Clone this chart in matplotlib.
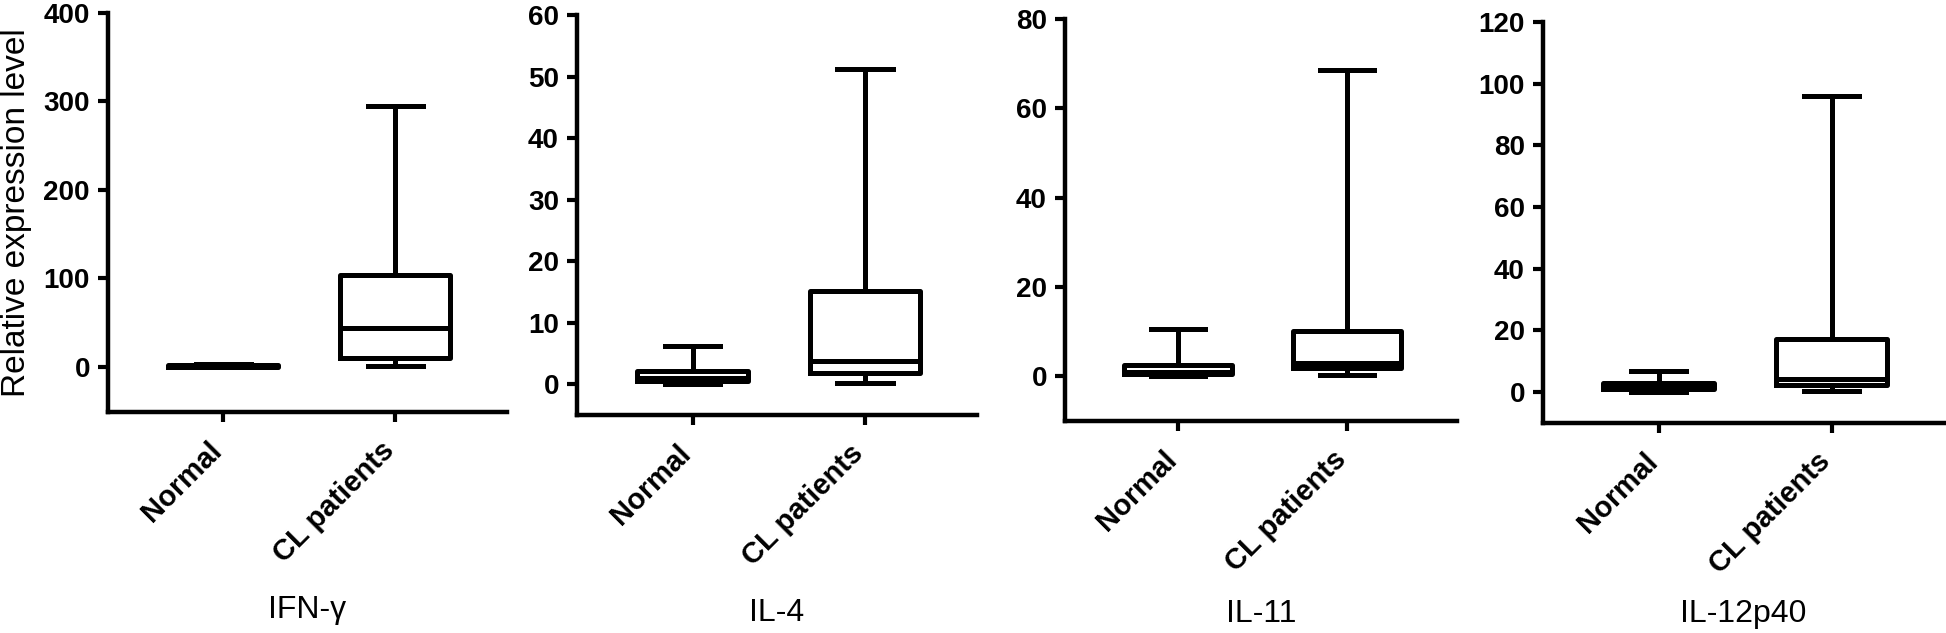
import matplotlib
matplotlib.use("Agg")
import matplotlib.pyplot as plt
from matplotlib.transforms import ScaledTranslation

plt.rcParams["font.family"] = ["Liberation Sans", "DejaVu Sans"]

# values (whisker low, Q1, median, Q3, whisker high)
groups = ["Normal", "CL patients"]
cytokines = ["IFN-γ", "IL-4", "IL-11", "IL-12p40"]

ifng_normal = [0.0, 0.2, 1.0, 2.5, 3.5]
ifng_cl = [1.0, 10.0, 44.0, 104.0, 295.0]
il4_normal = [0.0, 0.5, 1.0, 2.2, 6.2]
il4_cl = [0.2, 1.8, 3.7, 15.2, 51.3]
il11_normal = [0.0, 0.6, 1.0, 2.6, 10.5]
il11_cl = [0.2, 1.9, 2.9, 10.1, 68.5]
il12_normal = [0.0, 1.0, 1.8, 3.0, 6.8]
il12_cl = [0.5, 2.3, 4.4, 17.1, 96.0]

series = [
    (ifng_normal, ifng_cl),
    (il4_normal, il4_cl),
    (il11_normal, il11_cl),
    (il12_normal, il12_cl),
]
y_limits = [(-51, 400), (-5, 60), (-10, 80), (-10, 120)]
y_ticks = [
    [0, 100, 200, 300, 400],
    [0, 10, 20, 30, 40, 50, 60],
    [0, 20, 40, 60, 80],
    [0, 20, 40, 60, 80, 100, 120],
]

# axes boxes in pixels: left, right, top, bottom
W, H = 1946, 633
boxes = [(108, 507, 13, 412), (577, 977, 15, 415),
         (1065, 1457, 19, 421), (1543, 1944, 22, 423)]
title_baselines = [618, 621, 622, 622]

fig = plt.figure(figsize=(W / 100, H / 100), dpi=100)
shift = ScaledTranslation(6 / 100, 0, fig.dpi_scale_trans)

lw = 3.6
for i, (name, (normal, cl)) in enumerate(zip(cytokines, series)):
    l, r, t, b = boxes[i]
    ax = fig.add_axes([l / W, 1 - b / H, (r - l) / W, (b - t) / H])

    stats = []
    for vals in (normal, cl):
        lo, q1, med, q3, hi = vals
        stats.append(dict(whislo=lo, q1=q1, med=med, q3=q3, whishi=hi, fliers=[]))
    line = dict(color="black", linewidth=lw)
    ax.bxp(stats, positions=[0, 1], widths=0.64, showfliers=False,
           boxprops=line, whiskerprops=line, capprops=line, medianprops=line)

    ax.set_xlim(-0.67, 1.65)
    ax.set_ylim(*y_limits[i])
    ax.set_yticks(y_ticks[i])
    ax.set_xticks([0, 1])
    ax.set_xticklabels(groups, rotation=45, ha="right", va="baseline",
                       rotation_mode="anchor", fontsize=21, fontweight="bold")
    for lab in ax.get_xticklabels():
        lab.set_transform(lab.get_transform() + shift)
    for lab in ax.get_yticklabels():
        lab.set_fontsize(20)
        lab.set_fontweight("bold")

    for side in ("top", "right"):
        ax.spines[side].set_visible(False)
    for side in ("left", "bottom"):
        ax.spines[side].set_linewidth(3.2)
    ax.tick_params(axis="both", length=7, width=3, color="black")
    ax.tick_params(axis="y", pad=6)
    ax.tick_params(axis="x", pad=22)

    # cytokine name under each panel
    fig.text((l + r) / 2 / W, 1 - title_baselines[i] / H, name,
             fontsize=23, ha="center", va="baseline")
    if i == 0:
        ax.set_ylabel("Relative expression level", fontsize=24, labelpad=8)

fig.savefig("out.png", dpi=100)
